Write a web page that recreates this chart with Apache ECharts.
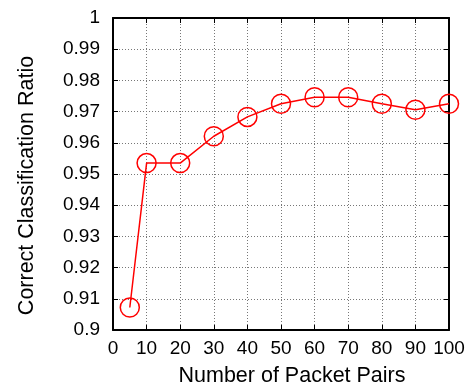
<!DOCTYPE html>
<html>
<head>
<meta charset="utf-8">
<script src="https://cdn.jsdelivr.net/npm/echarts@6/dist/echarts.min.js"></script>
<style>
  html, body { margin: 0; padding: 0; background: #fff; }
  #chart { width: 471px; height: 387px; }
</style>
</head>
<body>
<div id="chart"></div>
<script>
// Number of packet pairs used for classification
const packetPairs = [5, 10, 20, 30, 40, 50, 60, 70, 80, 90, 100];
// Correct classification ratio measured at each setting
const ratios = [0.9072, 0.9535, 0.9535, 0.9621, 0.9683, 0.9725, 0.9746, 0.9746, 0.9725, 0.9706, 0.9725];
// Axis labels
const xTitle = 'Number of Packet Pairs';
const yTitle = 'Correct Classification Ratio';

const font = 'Liberation Sans, Arial, Helvetica, sans-serif';
const frame = { show: true, onZero: false, lineStyle: { color: '#000', width: 2 } };
const grid = { show: true, lineStyle: { color: '#777', width: 1, type: [1, 2] } };
const tickStyle = { show: true, inside: true, length: 5, lineStyle: { color: '#000', width: 1 } };

const chart = echarts.init(document.getElementById('chart'), null, { renderer: 'canvas' });
chart.setOption({
  animation: false,
  backgroundColor: '#fff',
  grid: { left: 113, right: 22, top: 18, bottom: 57, outerBoundsMode: 'none', containLabel: false },
  xAxis: [
    {
      type: 'value', min: 0, max: 100, interval: 10, position: 'bottom',
      name: xTitle, nameLocation: 'middle', nameGap: 35,
      nameTextStyle: { fontFamily: font, fontSize: 21.5, color: '#000', padding: [0, 0, 0, 22] },
      axisLine: frame,
      axisTick: tickStyle,
      axisLabel: { fontFamily: font, fontSize: 19, color: '#000', margin: 9 },
      splitLine: grid
    },
    {
      type: 'value', min: 0, max: 100, interval: 10, position: 'top',
      axisLine: frame,
      axisTick: tickStyle,
      axisLabel: { show: false },
      splitLine: { show: false }
    }
  ],
  yAxis: [
    {
      type: 'value', min: 0.9, max: 1, interval: 0.01, position: 'left',
      name: yTitle, nameLocation: 'middle', nameGap: 75,
      nameTextStyle: { fontFamily: font, fontSize: 21.5, color: '#000', padding: [0, 23, 0, 0] },
      axisLine: frame,
      axisTick: tickStyle,
      axisLabel: {
        fontFamily: font, fontSize: 19, color: '#000', margin: 13,
        formatter: v => String(parseFloat(v.toFixed(2)))
      },
      splitLine: grid
    },
    {
      type: 'value', min: 0.9, max: 1, interval: 0.01, position: 'right',
      axisLine: frame,
      axisTick: tickStyle,
      axisLabel: { show: false },
      splitLine: { show: false }
    }
  ],
  series: [{
    type: 'line',
    data: packetPairs.map((x, i) => [x, ratios[i]]),
    symbol: 'circle',
    symbolSize: 19,
    showAllSymbol: true,
    lineStyle: { color: '#ff0000', width: 1.5 },
    itemStyle: { color: 'rgba(0,0,0,0)', borderColor: '#ff0000', borderWidth: 1.5 },
    z: 5
  }]
});
</script>
</body>
</html>
